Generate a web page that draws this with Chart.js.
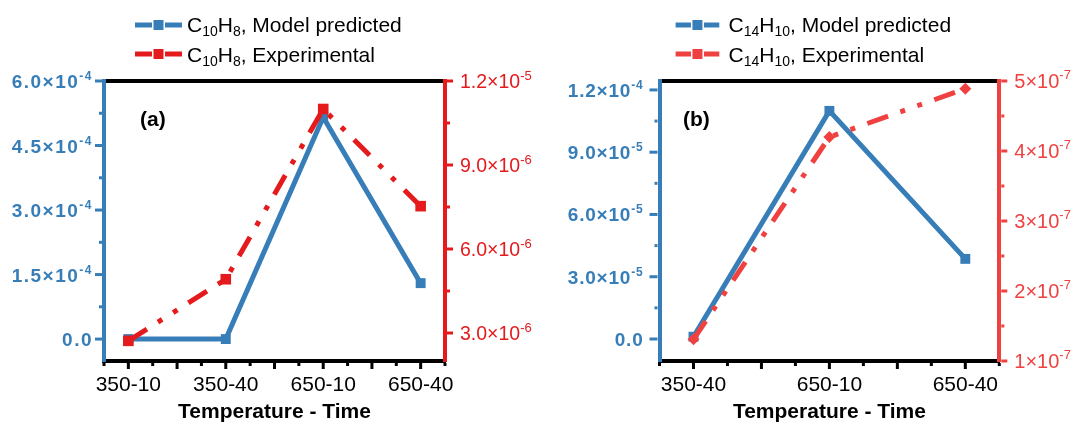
<!DOCTYPE html>
<html>
<head>
<meta charset="utf-8">
<script src="https://cdn.jsdelivr.net/npm/chart.js@4.4.0/dist/chart.umd.min.js"></script>
<style>
  body { margin: 0; background: #fff; }
  #wrap { position: relative; width: 1074px; height: 422px; overflow: hidden; }
  .painel { position: absolute; top: 0; width: 537px; height: 422px; }
</style>
</head>
<body>
<div id="wrap">
  <div class="painel" style="left:0"><canvas id="graficoA" width="537" height="422"></canvas></div>
  <div class="painel" style="left:537px"><canvas id="graficoB" width="537" height="422"></canvas></div>
</div>
<script>
// Categorias (Temperatura - Tempo)
const categoriasA = ['350-10', '350-40', '650-10', '650-40'];
const categoriasB = ['350-40', '650-10', '650-40'];

// (a) C10H8
const modeloA = [0, 0, 5.16e-4, 1.30e-4];
const experimentalA = [2.72e-6, 4.92e-6, 1.10e-5, 7.53e-6];

// (b) C14H10
const modeloB = [1.1e-6, 1.099e-4, 3.86e-5];
const experimentalB = [1.31e-7, 4.20e-7, 4.89e-7];

// Ticks dos eixos
const ticksEsqA = [0, 1.5e-4, 3.0e-4, 4.5e-4, 6.0e-4];
const ticksDirA = [3e-6, 6e-6, 9e-6, 1.2e-5];
const ticksEsqB = [0, 3e-5, 6e-5, 9e-5, 1.2e-4];
const ticksDirB = [1e-7, 2e-7, 3e-7, 4e-7, 5e-7];

// Fórmulas da legenda (normal, subscrito, normal, subscrito)
const formulaA = ['C', '10', 'H', '8'];
const formulaB = ['C', '14', 'H', '10'];

const fonte = "'Liberation Sans', Arial, Helvetica, sans-serif";
const azul = '#377EB8';
const vermelhoA = '#E41A1C';
const vermelhoB = '#F04141';

// Formata 6.0×10 + expoente
function formatarTick(v, casas) {
    if (v === 0) return { base: (0).toFixed(casas), exp: '' };
    const e = Math.floor(Math.log10(Math.abs(v)) + 1e-9);
    const m = v / Math.pow(10, e);
    return { base: m.toFixed(casas) + '×10', exp: String(e) };
}

function meios(arr) {
    const out = [];
    for (let i = 0; i < arr.length - 1; i++) out.push((arr[i] + arr[i + 1]) / 2);
    return out;
}

function linha(ctx, x1, y1, x2, y2) {
    ctx.beginPath();
    ctx.moveTo(x1, y1);
    ctx.lineTo(x2, y2);
    ctx.stroke();
}

function rotuloExp(ctx, v, x, y, alinhar, e) {
    const r = formatarTick(v, e.casas);
    ctx.letterSpacing = e.espaco || '0px';
    ctx.font = e.fonte;
    const w1 = ctx.measureText(r.base).width;
    ctx.font = e.fonteExp;
    const w2 = r.exp ? ctx.measureText(r.exp).width : 0;
    const x0 = alinhar === 'right' ? x - w1 - w2 : x;
    ctx.fillStyle = e.cor;
    ctx.textAlign = 'left';
    ctx.textBaseline = 'alphabetic';
    ctx.font = e.fonte;
    ctx.fillText(r.base, x0, y + e.desloc);
    if (r.exp) {
        ctx.font = e.fonteExp;
        ctx.fillText(r.exp, x0 + w1, y + e.desloc - e.subida);
    }
    ctx.letterSpacing = '0px';
}

function textoFormula(ctx, partes, resto, x, y) {
    ctx.textAlign = 'left';
    ctx.textBaseline = 'alphabetic';
    ctx.fillStyle = '#000';
    let cx = x;
    partes.forEach((t, i) => {
        if (i % 2 === 0) {
            ctx.font = '21px ' + fonte;
            ctx.fillText(t, cx, y);
        } else {
            ctx.font = '14px ' + fonte;
            ctx.fillText(t, cx, y + 4);
        }
        cx += ctx.measureText(t).width;
    });
    ctx.font = '21px ' + fonte;
    ctx.fillText(resto, cx, y);
}

function amostra(ctx, x0, x1, y, cor) {
    const xc = (x0 + x1) / 2;
    ctx.strokeStyle = cor;
    ctx.lineWidth = 5;
    ctx.lineCap = 'butt';
    linha(ctx, x0, y, xc - 6.5, y);
    linha(ctx, xc + 6.5, y, x1, y);
    ctx.fillStyle = cor;
    ctx.fillRect(xc - 5, y - 5, 10, 10);
}

// Plugin: ticks, rótulos, legenda e textos
function decoracao(p) {
    return {
        id: 'decoracao',
        afterDraw(chart) {
            const ctx = chart.ctx;
            const a = chart.chartArea;
            const sx = chart.scales.x, sy = chart.scales.y, sy2 = chart.scales.y2;
            ctx.save();
            ctx.lineWidth = 3;
            ctx.lineCap = 'butt';

            // eixo esquerdo
            ctx.strokeStyle = azul;
            p.ticksEsq.forEach(v => { const y = sy.getPixelForValue(v); linha(ctx, a.left - 2, y, a.left - 2 - p.tickEsq, y); });
            meios(p.ticksEsq).forEach(v => { const y = sy.getPixelForValue(v); linha(ctx, a.left - 2, y, a.left - 5, y); });
            p.ticksEsq.forEach(v => rotuloExp(ctx, v, a.left - p.rotEsqDx, sy.getPixelForValue(v), 'right', p.estiloEsq));

            // eixo direito
            ctx.strokeStyle = p.corExp;
            p.ticksDir.forEach(v => { const y = sy2.getPixelForValue(v); linha(ctx, a.right + 2, y, a.right + 8, y); });
            meios(p.ticksDir).forEach(v => { const y = sy2.getPixelForValue(v); linha(ctx, a.right + 2, y, a.right + 5, y); });
            p.ticksDir.forEach(v => rotuloExp(ctx, v, a.right + p.rotDirDx, sy2.getPixelForValue(v), 'left', p.estiloDir));

            // eixo x
            ctx.strokeStyle = '#000';
            for (let v = sx.min; v <= sx.max + 1e-9; v += 0.25) {
                const x = sx.getPixelForValue(v);
                const maior = Math.abs(v * 2 - Math.round(v * 2)) < 1e-6;
                linha(ctx, x, a.bottom + 2, x, a.bottom + (maior ? 8 : 5));
            }
            ctx.fillStyle = '#000';
            ctx.font = '21px ' + fonte;
            ctx.textAlign = 'center';
            ctx.textBaseline = 'alphabetic';
            p.categorias.forEach((c, i) => ctx.fillText(c, sx.getPixelForValue(i), 391));
            ctx.font = 'bold 21px ' + fonte;
            ctx.fillText('Temperature - Time', (a.left + a.right) / 2, 418);

            // (a) / (b)
            ctx.textAlign = 'left';
            ctx.font = 'bold 21px ' + fonte;
            ctx.fillText(p.letra, p.letraX, 126);

            // legenda
            amostra(ctx, p.legX0, p.legX1, 25, azul);
            amostra(ctx, p.legX0, p.legX1, 54, p.corExp);
            textoFormula(ctx, p.formula, ', Model predicted', p.legTexto, 32);
            textoFormula(ctx, p.formula, ', Experimental', p.legTexto, 62);
            ctx.restore();
        }
    };
}

function criarPainel(id, p) {
    const pts = arr => arr.map((v, i) => ({ x: i, y: v }));
    const eixoBase = { grid: { display: false }, ticks: { display: false } };
    return new Chart(document.getElementById(id), {
        type: 'line',
        data: {
            datasets: [
                {
                    label: 'Experimental',
                    data: pts(p.experimental),
                    yAxisID: 'y2',
                    borderColor: p.corExp,
                    backgroundColor: p.corExp,
                    borderWidth: 5,
                    borderDash: [22, 13, 5, 13, 5, 13],
                    borderCapStyle: 'butt',
                    pointStyle: p.marcadorExp,
                    pointRadius: p.raioExp,
                    pointBorderWidth: 0,
                    pointBackgroundColor: p.corExp,
                    tension: 0,
                    clip: false
                },
                {
                    label: 'Model predicted',
                    data: pts(p.modelo),
                    yAxisID: 'y',
                    borderColor: azul,
                    backgroundColor: azul,
                    borderWidth: 5,
                    pointStyle: 'rect',
                    pointRadius: 7,
                    pointBorderWidth: 0,
                    pointBackgroundColor: azul,
                    tension: 0,
                    clip: false
                }
            ]
        },
        options: {
            responsive: false,
            animation: false,
            events: [],
            layout: { padding: { top: 81, left: 0, right: 0, bottom: 0 } },
            plugins: { legend: { display: false }, tooltip: { enabled: false } },
            scales: {
                x: {
                    ...eixoBase, type: 'linear', position: 'bottom',
                    min: -0.25, max: p.categorias.length - 0.75,
                    border: { color: '#000', width: 4 },
                    afterFit: s => { s.height = 422 - p.area.bottom; }
                },
                xTopo: {
                    ...eixoBase, type: 'linear', axis: 'x', position: 'top',
                    min: -0.25, max: p.categorias.length - 0.75,
                    border: { color: '#000', width: 4 },
                    afterFit: s => { s.height = 0; }
                },
                y: {
                    ...eixoBase, position: 'left', min: p.yMin, max: p.yMax,
                    border: { color: azul, width: 4 },
                    afterFit: s => { s.width = p.area.left; }
                },
                y2: {
                    ...eixoBase, position: 'right', min: p.y2Min, max: p.y2Max,
                    border: { color: p.corExp, width: 4 },
                    afterFit: s => { s.width = 537 - p.area.right; }
                }
            }
        },
        plugins: [decoracao(p)]
    });
}

criarPainel('graficoA', {
    categorias: categoriasA, modelo: modeloA, experimental: experimentalA,
    ticksEsq: ticksEsqA, ticksDir: ticksDirA, formula: formulaA,
    corExp: vermelhoA, marcadorExp: 'rect', raioExp: 7.5,
    area: { left: 104, right: 445, bottom: 361 },
    yMin: -5.1e-5, yMax: 6e-4, y2Min: 2e-6, y2Max: 1.2e-5,
    tickEsq: 7, rotEsqDx: 11, rotDirDx: 15,
    estiloEsq: { casas: 1, cor: azul, fonte: 'bold 19px ' + fonte, fonteExp: 'bold 12px ' + fonte, desloc: 7, subida: 8, espaco: '1.5px' },
    estiloDir: { casas: 1, cor: vermelhoA, fonte: '19.5px ' + fonte, fonteExp: '13px ' + fonte, desloc: 6.5, subida: 8 },
    letra: '(a)', letraX: 140,
    legX0: 135, legX1: 182, legTexto: 187
});

criarPainel('graficoB', {
    categorias: categoriasB, modelo: modeloB, experimental: experimentalB,
    ticksEsq: ticksEsqB, ticksDir: ticksDirB, formula: formulaB,
    corExp: vermelhoB, marcadorExp: 'rectRot', raioExp: 6,
    area: { left: 122.5, right: 462.3, bottom: 361 },
    yMin: -1.06e-5, yMax: 1.243e-4, y2Min: 1e-7, y2Max: 5e-7,
    tickEsq: 8, rotEsqDx: 16, rotDirDx: 15,
    estiloEsq: { casas: 1, cor: azul, fonte: 'bold 19px ' + fonte, fonteExp: 'bold 12px ' + fonte, desloc: 7, subida: 8, espaco: '0.8px' },
    estiloDir: { casas: 0, cor: vermelhoB, fonte: '20px ' + fonte, fonteExp: '13px ' + fonte, desloc: 7, subida: 9 },
    letra: '(b)', letraX: 146,
    legX0: 138.6, legX1: 182.3, legTexto: 191.5
});
</script>
</body>
</html>
